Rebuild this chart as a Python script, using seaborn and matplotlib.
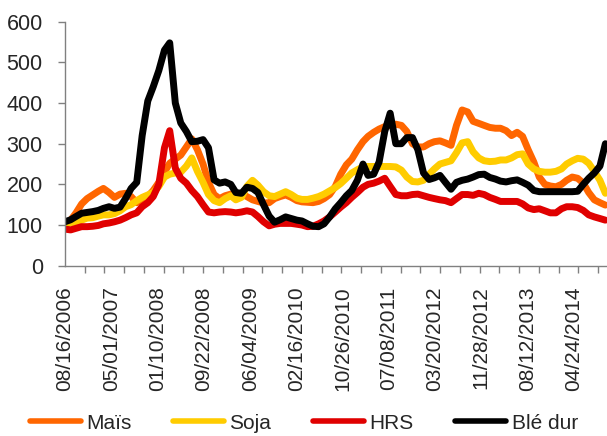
import matplotlib
matplotlib.use("Agg")
import matplotlib.pyplot as plt
import matplotlib.dates as mdates
import seaborn as sns
import pandas as pd

# monthly points, 16 Aug 2006 -> 16 Oct 2014
dates = pd.date_range("2006-08-16", periods=99, freq=pd.DateOffset(months=1))

mais = [100, 112, 130, 152, 165, 174, 183, 190, 180, 168,
        176, 178, 170, 155, 160, 170, 185, 205, 230, 252,
        262, 272, 292, 312, 285, 250, 205, 175, 165, 172,
        176, 178, 176, 170, 162, 158, 154, 155, 165, 170,
        174, 168, 160, 157, 156, 155, 158, 165, 175, 195,
        225, 248, 262, 285, 305, 318, 328, 336, 342, 345,
        348, 345, 330, 300, 292, 292, 300, 305, 307, 302,
        296, 345, 383, 378, 355, 350, 345, 340, 338, 338,
        332, 320, 328, 318, 285, 255, 218, 200, 196, 194,
        200, 210, 218, 215, 203, 180, 162, 155, 149]

soja = [100, 105, 108, 112, 117, 118, 122, 125, 125, 128,
        135, 145, 150, 160, 168, 174, 180, 195, 218, 225,
        228, 230, 245, 265, 232, 205, 175, 160, 155, 165,
        172, 162, 168, 195, 210, 198, 182, 172, 170, 176,
        182, 175, 166, 163, 163, 166, 170, 176, 184, 192,
        202, 215, 228, 236, 243, 244, 244, 244, 244, 244,
        243, 235, 218, 207, 206, 210, 225, 238, 250, 254,
        258, 278, 302, 305, 280, 265, 258, 256, 257, 260,
        260, 265, 273, 275, 250, 238, 232, 230, 230, 232,
        238, 250, 258, 264, 262, 252, 232, 210, 178]

hrs = [90, 88, 92, 96, 96, 97, 99, 103, 105, 108,
       112, 118, 125, 130, 145, 155, 170, 200, 290, 332,
       240, 215, 203, 185, 170, 150, 132, 130, 132, 133,
       132, 130, 132, 135, 132, 121, 108, 98, 102, 104,
       104, 104, 102, 100, 96, 97, 103, 110, 120, 132,
       144, 155, 168, 180, 193, 200, 203, 208, 215, 195,
       175, 172, 172, 175, 176, 172, 168, 165, 162, 160,
       155, 165, 175, 175, 173, 178, 175, 168, 163, 158,
       158, 158, 158, 152, 142, 138, 140, 135, 130, 130,
       140, 145, 145, 143, 136, 125, 120, 116, 112]

ble_dur = [108, 113, 121, 129, 131, 133, 136, 141, 145, 141,
           144, 165, 190, 205, 320, 405, 440, 480, 530, 548,
           400, 351, 330, 305, 306, 310, 290, 211, 203, 206,
           200, 180, 178, 193, 190, 180, 150, 122, 107, 113,
           120, 116, 112, 110, 103, 97, 96, 103, 120, 140,
           155, 172, 185, 210, 250, 222, 225, 255, 330, 375,
           300, 300, 315, 315, 285, 228, 212, 216, 222, 205,
           188, 205, 210, 213, 218, 224, 225, 217, 213, 208,
           206, 209, 211, 205, 198, 185, 182, 182, 182, 182,
           182, 182, 182, 183, 200, 215, 228, 245, 300]

series = ["Maïs", "Soja", "HRS", "Blé dur"]
colors = ["#FF6600", "#FFCC00", "#E00000", "#000000"]
tick_labels = ["08/16/2006", "05/01/2007", "01/10/2008", "09/22/2008",
               "06/04/2009", "02/16/2010", "10/26/2010", "07/08/2011",
               "03/20/2012", "11/28/2012", "08/12/2013", "04/24/2014"]

df = pd.concat([
    pd.DataFrame({"date": dates, "prix": vals, "serie": name})
    for name, vals in zip(series, [mais, soja, hrs, ble_dur])
])

sns.set_style("white")
plt.rcParams["font.family"] = ["Liberation Sans", "DejaVu Sans"]

fig = plt.figure(figsize=(6.07, 4.36), dpi=100)
ax = fig.add_axes([65 / 607, 1 - 265.7 / 436, 1 - 65 / 607, (265.7 - 21.7) / 436])

sns.lineplot(data=df, x="date", y="prix", hue="serie", hue_order=series,
             palette=colors, linewidth=5, estimator=None, sort=False,
             legend=False, ax=ax)
for ln in ax.lines:
    ln.set_solid_joinstyle("round")
    ln.set_solid_capstyle("round")

ax.set_ylim(0, 600)
ax.set_yticks(range(0, 601, 100))
ax.set_xlim(mdates.date2num(pd.Timestamp("2006-08-16")),
            mdates.date2num(pd.Timestamp("2014-10-25")))

label_pos = mdates.date2num(pd.to_datetime(tick_labels, format="%m/%d/%Y"))
ax.set_xticks(label_pos)
ax.set_xticklabels(tick_labels, rotation=90)
minor_pos = mdates.date2num(pd.date_range("2006-08-16", periods=28, freq="109D"))
ax.set_xticks(minor_pos, minor=True)

ax.set_xlabel("")
ax.set_ylabel("")
sns.despine(ax=ax)
for s in ["left", "bottom"]:
    ax.spines[s].set_color("#808080")
    ax.spines[s].set_linewidth(1)

ax.tick_params(axis="y", direction="out", length=5, width=1, color="#808080",
               pad=11, labelsize=15.5, left=True)
ax.tick_params(axis="x", which="major", length=0, pad=15, labelsize=15)
ax.tick_params(axis="x", which="minor", direction="out", length=5, width=1,
               color="#808080", bottom=True)

leg = fig.legend(ax.lines, series, loc="center left",
                 bbox_to_anchor=(30 / 607, 1 - 423 / 436), ncol=4,
                 frameon=False, fontsize=15, handlelength=2.45,
                 handletextpad=0.25, columnspacing=2.0, borderpad=0,
                 borderaxespad=0)
for ln in leg.get_lines():
    ln.set_linewidth(4)

fig.savefig("out.png", dpi=100)
